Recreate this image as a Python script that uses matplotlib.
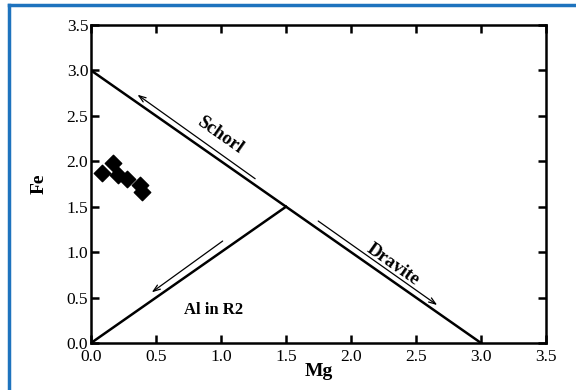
import matplotlib
matplotlib.use("Agg")
import matplotlib.pyplot as plt
from matplotlib.lines import Line2D

# data
mg_pts = [0.085, 0.17, 0.21, 0.28, 0.38, 0.39]
fe_pts = [1.87, 1.98, 1.85, 1.81, 1.74, 1.66]

schorl_dravite_x = [0.0, 3.0]
schorl_dravite_y = [3.0, 0.0]
al_x = [0.0, 1.5]
al_y = [0.0, 1.5]

ticks = [0.0, 0.5, 1.0, 1.5, 2.0, 2.5, 3.0, 3.5]
tick_labels = ["0.0", "0.5", "1.0", "1.5", "2.0", "2.5", "3.0", "3.5"]

plt.rcParams['font.family'] = ['Liberation Serif', 'DejaVu Serif']

fig = plt.figure(figsize=(5.76, 3.9), dpi=100)
ax = fig.add_axes([0.158, 0.1205, 0.79, 0.8155])

ax.plot(schorl_dravite_x, schorl_dravite_y, color='black', lw=1.8)
ax.plot(al_x, al_y, color='black', lw=1.8)
ax.scatter(mg_pts, fe_pts, marker='D', s=70, color='black', zorder=3)

arrow_kw = dict(arrowstyle='->,head_length=0.5,head_width=0.18', color='black', lw=0.9)
ax.annotate('', xy=(0.34, 2.75), xytext=(1.28, 1.79), arrowprops=arrow_kw)
ax.annotate('', xy=(2.68, 0.40), xytext=(1.73, 1.36), arrowprops=arrow_kw)
ax.annotate('', xy=(0.45, 0.54), xytext=(1.03, 1.14), arrowprops=arrow_kw)

ax.text(0.99, 2.29, 'Schorl', rotation=-35, ha='center', va='center',
        fontsize=13.5, fontweight='bold', rotation_mode='anchor')
ax.text(2.32, 0.86, 'Dravite', rotation=-35, ha='center', va='center',
        fontsize=13.5, fontweight='bold', rotation_mode='anchor')
ax.text(0.94, 0.36, 'Al in R2', ha='center', va='center',
        fontsize=12, fontweight='bold')

ax.set_xlim(0, 3.5)
ax.set_ylim(0, 3.5)
ax.set_xticks(ticks)
ax.set_xticklabels(tick_labels)
ax.set_yticks(ticks)
ax.set_yticklabels(tick_labels)
ax.tick_params(direction='in', length=6, width=1.8, labelsize=12.5,
               top=True, right=True)
ax.tick_params(axis='x', pad=4)
ax.tick_params(axis='y', pad=2)
for s in ax.spines.values():
    s.set_linewidth(1.8)
ax.set_xlabel('Mg', fontsize=14, fontweight='bold', labelpad=-1)
ax.set_ylabel('Fe', fontsize=14, fontweight='bold', labelpad=14)

# blue frame (top and left)
blue = '#1E73BE'
fig.add_artist(Line2D([0.016, 1.0], [0.986, 0.986], color=blue, lw=2.5, transform=fig.transFigure))
fig.add_artist(Line2D([0.016, 0.016], [0.0, 0.986], color=blue, lw=2.5, transform=fig.transFigure))

fig.savefig('out.png', dpi=100)
